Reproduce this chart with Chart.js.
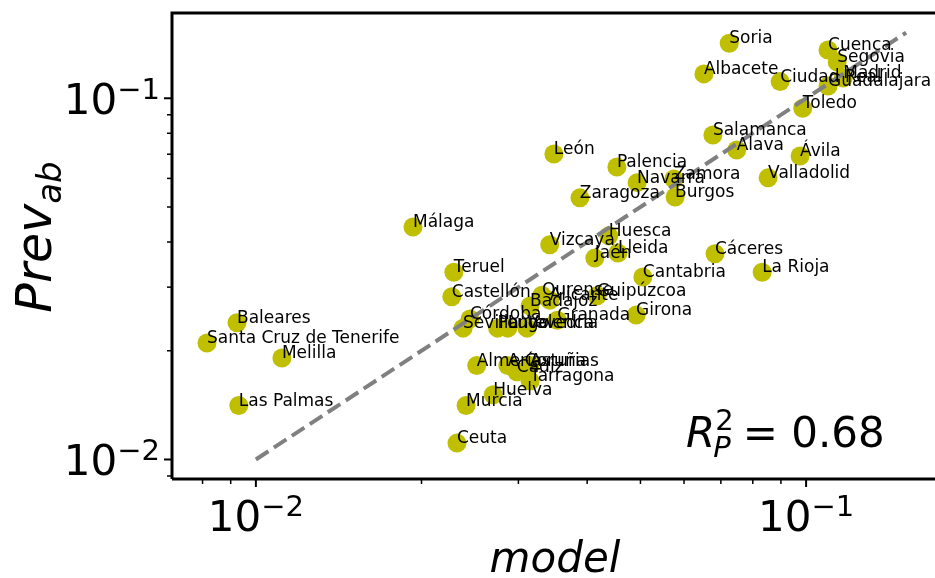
<!DOCTYPE html>
<html>
<head>
<meta charset="utf-8">
<script src="https://cdn.jsdelivr.net/npm/chart.js@4"></script>
<style>
  html, body { margin: 0; padding: 0; background: #ffffff; overflow: hidden; }
  #wrap { width: 935px; height: 578px; position: relative; }
</style>
</head>
<body>
<div id="wrap"><canvas id="chart"></canvas></div>
<script>
// Province names with modelled and observed prevalence
const provinces = [
  'Soria', 'Cuenca', 'Segovia', 'Albacete', 'Ciudad Real', 'Madrid', 'Guadalajara',
  'Toledo', 'Salamanca', 'Álava', 'Ávila', 'Valladolid', 'Palencia', 'Navarra',
  'Zamora', 'Burgos', 'Zaragoza', 'León', 'Málaga', 'Vizcaya', 'Huesca', 'Jaén',
  'Lleida', 'Teruel', 'Cantabria', 'Cáceres', 'La Rioja', 'Castellón', 'Ourense',
  'Alicante', 'Guipúzcoa', 'Badajoz', 'Córdoba', 'Granada', 'Girona', 'Sevilla',
  'Pontevedra', 'Lugo', 'Valencia', 'Almería', 'A Coruña', 'Asturias', 'Cádiz',
  'Tarragona', 'Huelva', 'Murcia', 'Ceuta', 'Baleares',
  'Santa Cruz de Tenerife', 'Melilla', 'Las Palmas'
];
const modelValues = [
  0.0725, 0.1096, 0.1139, 0.0652, 0.0897, 0.1168, 0.1096,
  0.0986, 0.0677, 0.0748, 0.0975, 0.0853, 0.0453, 0.0493,
  0.0575, 0.0578, 0.0388, 0.0348, 0.0193, 0.0342, 0.0438, 0.0413,
  0.0455, 0.0229, 0.0505, 0.0683, 0.0832, 0.0227, 0.0331,
  0.0342, 0.0417, 0.0315, 0.0245, 0.0353, 0.0491, 0.0238,
  0.0275, 0.0287, 0.0311, 0.0252, 0.0287, 0.0315, 0.0298,
  0.0315, 0.0270, 0.0241, 0.0232, 0.00924,
  0.00815, 0.01115, 0.00931
];
const prevValues = [
  0.1420, 0.1360, 0.1260, 0.1168, 0.1112, 0.1138, 0.1081,
  0.0938, 0.0791, 0.0719, 0.0692, 0.0602, 0.0645, 0.0584,
  0.0598, 0.0533, 0.0530, 0.0701, 0.0440, 0.0393, 0.0416, 0.0361,
  0.0373, 0.0330, 0.0320, 0.0371, 0.0330, 0.0282, 0.0285,
  0.0276, 0.0284, 0.0266, 0.0245, 0.0243, 0.0251, 0.0231,
  0.0231, 0.0231, 0.0231, 0.0182, 0.0182, 0.0182, 0.0175,
  0.0165, 0.0151, 0.0141, 0.0111, 0.0239,
  0.0210, 0.0191, 0.0141
];

// Identity reference line (model = observed)
const identityLine = [0.01, 0.152];

// Axis ranges and decade ticks
const xRange = [0.00704, 0.1715];
const yRange = [0.00883, 0.1722];
const majorTicks = [0.01, 0.1];
const majorExponents = ['\u22122', '\u22121'];
const r2Value = '0.68';

const FONT = '"DejaVu Sans", "Liberation Sans", sans-serif';
const POINT_COLOR = '#bfbf00';

function minorTicks(min, max) {
  const out = [];
  for (let e = -4; e <= 1; e++) {
    for (let m = 2; m <= 9; m++) {
      const v = m * Math.pow(10, e);
      if (v >= min && v <= max) out.push(v);
    }
  }
  return out;
}

// Draws a "10^exp" label centred on x (x axis) or right-aligned at x (y axis)
function drawPowerLabel(ctx, exp, x, baseline, centred) {
  ctx.font = '42px ' + FONT;
  const wBase = ctx.measureText('10').width;
  ctx.font = '29px ' + FONT;
  const wExp = ctx.measureText(exp).width;
  const total = wBase + wExp;
  const left = centred ? x - total / 2 : x - total;
  ctx.textAlign = 'left';
  ctx.textBaseline = 'alphabetic';
  ctx.font = '42px ' + FONT;
  ctx.fillText('10', left, baseline);
  ctx.font = '29px ' + FONT;
  ctx.fillText(exp, left + wBase, baseline - 15);
}

const decorations = {
  id: 'decorations',
  afterDatasetsDraw(chart) {
    const ctx = chart.ctx;
    const area = chart.chartArea;
    const xs = chart.scales.x;
    const ys = chart.scales.y;
    ctx.save();

    // Point labels, anchored at each marker's centre
    const meta = chart.getDatasetMeta(1);
    ctx.fillStyle = '#000000';
    ctx.font = '17px ' + FONT;
    ctx.textAlign = 'left';
    ctx.textBaseline = 'alphabetic';
    meta.data.forEach((el, i) => {
      ctx.fillText(provinces[i], el.x, el.y);
    });

    // Spines
    ctx.strokeStyle = '#000000';
    ctx.lineWidth = 3;
    ctx.beginPath();
    ctx.moveTo(area.left, area.bottom);
    ctx.lineTo(area.left, area.top);
    ctx.lineTo(chart.width + 5, area.top);
    ctx.moveTo(area.left, area.bottom);
    ctx.lineTo(chart.width + 5, area.bottom);
    ctx.stroke();

    // Tick marks
    ctx.lineWidth = 2;
    majorTicks.forEach(v => {
      const px = xs.getPixelForValue(v);
      ctx.beginPath(); ctx.moveTo(px, area.bottom); ctx.lineTo(px, area.bottom + 8); ctx.stroke();
      const py = ys.getPixelForValue(v);
      ctx.beginPath(); ctx.moveTo(area.left, py); ctx.lineTo(area.left - 8, py); ctx.stroke();
    });
    ctx.lineWidth = 1.5;
    minorTicks(xRange[0], xRange[1]).forEach(v => {
      const px = xs.getPixelForValue(v);
      ctx.beginPath(); ctx.moveTo(px, area.bottom); ctx.lineTo(px, area.bottom + 5); ctx.stroke();
    });
    minorTicks(yRange[0], yRange[1]).forEach(v => {
      const py = ys.getPixelForValue(v);
      ctx.beginPath(); ctx.moveTo(area.left, py); ctx.lineTo(area.left - 5, py); ctx.stroke();
    });

    // Tick labels
    ctx.fillStyle = '#000000';
    majorTicks.forEach((v, i) => {
      drawPowerLabel(ctx, majorExponents[i], xs.getPixelForValue(v), area.bottom + 52, true);
      drawPowerLabel(ctx, majorExponents[i], area.left - 12, ys.getPixelForValue(v) + 15.5, false);
    });

    // Axis titles
    ctx.font = 'italic 42px ' + FONT;
    ctx.textAlign = 'center';
    ctx.textBaseline = 'alphabetic';
    ctx.fillText('model', 555, 572);

    ctx.save();
    ctx.translate(51, 237);
    ctx.rotate(-Math.PI / 2);
    ctx.font = 'italic 49px ' + FONT;
    const wMain = ctx.measureText('Prev').width;
    ctx.font = 'italic 34px ' + FONT;
    const wSub = ctx.measureText('ab').width;
    const start = -(wMain + wSub) / 2;
    ctx.textAlign = 'left';
    ctx.font = 'italic 49px ' + FONT;
    ctx.fillText('Prev', start, 0);
    ctx.font = 'italic 34px ' + FONT;
    ctx.fillText('ab', start + wMain, 10);
    ctx.restore();

    // Goodness-of-fit annotation
    ctx.textAlign = 'left';
    ctx.font = 'italic 42px ' + FONT;
    const rx = 686, ry = 447;
    ctx.fillText('R', rx, ry);
    const wR = ctx.measureText('R').width;
    ctx.font = 'italic 29px ' + FONT;
    ctx.fillText('P', rx + wR - 2, ry + 10);
    const wP = ctx.measureText('P').width;
    ctx.font = '29px ' + FONT;
    ctx.fillText('2', rx + wR, ry - 17);
    ctx.font = '42px ' + FONT;
    ctx.fillText('= ' + r2Value, rx + wR + wP + 10, ry);

    ctx.restore();
  }
};

new Chart(document.getElementById('chart'), {
  type: 'scatter',
  data: {
    datasets: [
      {
        type: 'line',
        data: identityLine.map(v => ({ x: v, y: v })),
        borderColor: '#808080',
        borderWidth: 4,
        borderDash: [15, 6.5],
        pointRadius: 0,
        fill: false,
        order: 0
      },
      {
        data: modelValues.map((m, i) => ({ x: m, y: prevValues[i] })),
        backgroundColor: POINT_COLOR,
        borderWidth: 0,
        pointRadius: 9.5,
        pointHoverRadius: 9.5,
        order: 1
      }
    ]
  },
  options: {
    responsive: true,
    maintainAspectRatio: false,
    animation: false,
    devicePixelRatio: 1,
    layout: { autoPadding: false, padding: { left: 172, top: 13, right: 0, bottom: 99 } },
    plugins: { legend: { display: false }, tooltip: { enabled: false } },
    scales: {
      x: { type: 'logarithmic', min: xRange[0], max: xRange[1], display: false },
      y: { type: 'logarithmic', min: yRange[0], max: yRange[1], display: false }
    }
  },
  plugins: [decorations]
});
</script>
</body>
</html>
